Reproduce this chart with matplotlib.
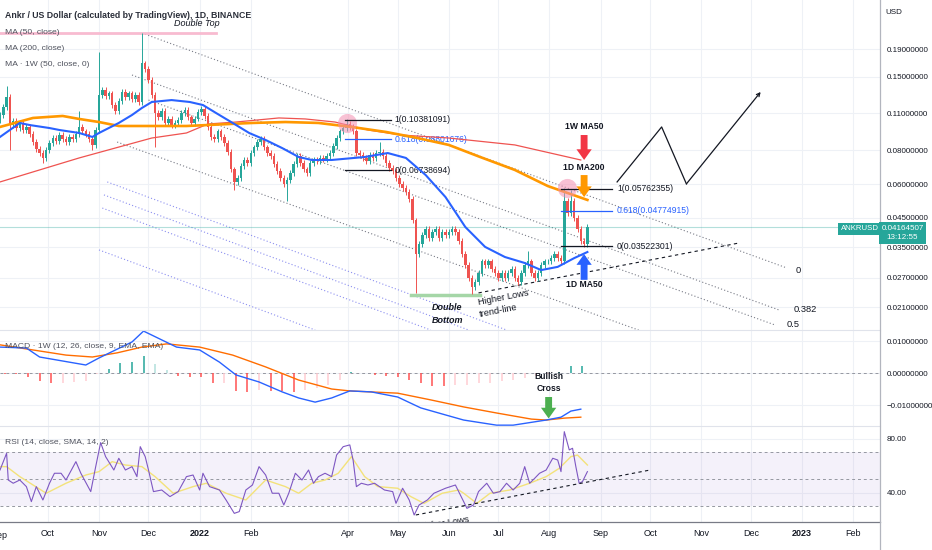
import datetime as dt
import numpy as np
import matplotlib
matplotlib.use("Agg")
import matplotlib.pyplot as plt
import matplotlib.dates as mdates
from matplotlib.lines import Line2D
from matplotlib.ticker import FixedLocator, FuncFormatter, NullLocator

plt.rcParams['font.family'] = ['Liberation Sans', 'DejaVu Sans']
plt.rcParams['font.size'] = 6

# ---------------- data ----------------
start = dt.datetime(2021, 9, 2)
d0 = mdates.date2num(start)

# 2-day candles, closes in USD
closes = [0.108, 0.116, 0.126, 0.099, 0.103, 0.097, 0.101, 0.095, 0.098, 0.092,
          0.086, 0.081, 0.078, 0.075, 0.080, 0.085, 0.089, 0.087, 0.091, 0.088,
          0.086, 0.090, 0.088, 0.092, 0.098, 0.094, 0.092, 0.088, 0.084, 0.095,
          0.128, 0.134, 0.127, 0.130, 0.118, 0.112, 0.122, 0.132, 0.126, 0.130,
          0.124, 0.128, 0.121, 0.168, 0.160, 0.146, 0.128, 0.110, 0.106, 0.112,
          0.101, 0.105, 0.099, 0.101, 0.104, 0.110, 0.113, 0.106, 0.101, 0.105,
          0.111, 0.114, 0.107, 0.098, 0.090, 0.088, 0.094, 0.090, 0.085, 0.079,
          0.068, 0.061, 0.063, 0.070, 0.074, 0.072, 0.078, 0.082, 0.086, 0.088,
          0.082, 0.078, 0.076, 0.071, 0.067, 0.063, 0.060, 0.062, 0.066, 0.071,
          0.076, 0.072, 0.068, 0.066, 0.072, 0.074, 0.073, 0.075, 0.074, 0.076,
          0.078, 0.083, 0.089, 0.094, 0.097, 0.100, 0.098, 0.094, 0.078, 0.077,
          0.075, 0.073, 0.077, 0.075, 0.078, 0.079, 0.076, 0.072, 0.069, 0.067,
          0.063, 0.060, 0.058, 0.056, 0.053, 0.044, 0.033, 0.036, 0.039, 0.041,
          0.038, 0.040, 0.041, 0.038, 0.040, 0.039, 0.040, 0.041, 0.040, 0.037,
          0.033, 0.030, 0.027, 0.025, 0.026, 0.028, 0.031, 0.030, 0.031, 0.029,
          0.028, 0.027, 0.028, 0.027, 0.028, 0.029, 0.027, 0.026, 0.028, 0.030,
          0.031, 0.028, 0.027, 0.028, 0.030, 0.031, 0.031, 0.032, 0.033, 0.032,
          0.031, 0.052, 0.047, 0.052, 0.045, 0.041, 0.037, 0.036, 0.04164507]
first_open = 0.104
wick_high = {2: 0.138, 24: 0.112, 30: 0.185, 43: 0.218, 105: 0.105, 115: 0.086,
             160: 0.034, 171: 0.058, 173: 0.057}
wick_low = {3: 0.080, 13: 0.072, 28: 0.080, 47: 0.082, 71: 0.057, 87: 0.052,
            126: 0.0236, 143: 0.0234, 177: 0.0352}

# moving averages (day offset from start, price)
ma50_days = [0, 12, 18, 30, 36, 48, 56, 60, 72, 80, 86, 92, 104, 115, 123, 131, 141,
             151, 161, 171, 181, 189, 201, 221, 235, 246, 258, 270, 282, 294, 306,
             318, 328, 338, 348, 356]
ma50_vals = [0.0897, 0.1011, 0.0993, 0.0968, 0.0952, 0.0928, 0.0897, 0.0928, 0.1011,
             0.1082, 0.1149, 0.1209, 0.1229, 0.1209, 0.1178, 0.1100, 0.1011, 0.0928,
             0.0874, 0.0816, 0.0756, 0.0737, 0.0737, 0.0756, 0.0782, 0.0750, 0.0648,
             0.0537, 0.0416, 0.0351, 0.0322, 0.0306, 0.0288, 0.0296, 0.0319, 0.0336]
ma200_days = [0, 20, 38, 48, 60, 72, 113, 153, 173, 193, 213, 234, 253, 272, 291,
              312, 332, 356]
ma200_vals = [0.0977, 0.1055, 0.1073, 0.1046, 0.1019, 0.0985, 0.0985, 0.1011, 0.1019,
              0.1011, 0.0977, 0.0936, 0.0889, 0.0838, 0.0756, 0.0677, 0.0590, 0.0524]
ma1w_days = [0, 24, 48, 72, 92, 113, 126, 143, 169, 185, 203, 223, 243, 272, 312, 352]
ma1w_vals = [0.0611, 0.0677, 0.0750, 0.0823, 0.0889, 0.0928, 0.1002, 0.1019, 0.1055,
             0.1046, 0.1019, 0.0952, 0.0912, 0.0889, 0.0838, 0.0737]

# weekly MACD
macd_days = [0, 16, 24, 52, 60, 80, 87, 107, 121, 133, 143, 157, 171, 181, 191, 201,
             212, 225, 241, 255, 270, 281, 301, 311, 331, 340, 346, 352]
macd_vals = [0.0081, 0.0078, 0.0050, 0.0025, 0.0047, 0.0097, 0.0131, 0.0081, 0.0072,
             0.0034, -0.0006, -0.0028, -0.0059, -0.0078, -0.0091, -0.0078, -0.0056,
             -0.0059, -0.0075, -0.0109, -0.0131, -0.0147, -0.0163, -0.0163, -0.0147,
             -0.0138, -0.0119, -0.0113]
signal_days = [0, 20, 40, 56, 71, 86, 101, 121, 141, 161, 181, 201, 212, 241, 261,
               281, 301, 322, 331, 342, 352]
signal_vals = [0.0088, 0.0072, 0.0056, 0.0050, 0.0063, 0.0081, 0.0091, 0.0081, 0.0056,
               0.0019, -0.0022, -0.0050, -0.0056, -0.0063, -0.0084, -0.0106, -0.0125,
               -0.0144, -0.0147, -0.0141, -0.0138]
hist_first_day = 3
hist_vals = [-0.0002, -0.0003, -0.00125, -0.0025, -0.0031, -0.0030, -0.0028, -0.0025,
             -0.0003, 0.00125, 0.0031, 0.0034, 0.0053, 0.0028, 0.0009, -0.0009,
             -0.00125, -0.00125, -0.0031, -0.0030, -0.0056, -0.0059, -0.0053, -0.0056,
             -0.0056, -0.0059, -0.0053, -0.0047, -0.00375, -0.0022, 0.0003, 0.0001,
             -0.0006, -0.0009, -0.00125, -0.0022, -0.0031, -0.0041, -0.0041, -0.00375,
             -0.0037, -0.0031, -0.0030, -0.0025, -0.0022, -0.0016, -0.0009, -0.0003,
             0.0003, 0.0022, 0.0022]

# daily RSI and its SMA
rsi_days = [0, 4, 5, 8, 12, 16, 19, 22, 26, 30, 33, 37, 40, 46, 49, 55, 58, 61, 64,
            69, 72, 76, 80, 83, 85, 88, 90, 93, 98, 103, 108, 113, 117, 121, 123,
            127, 133, 137, 142, 145, 149, 153, 157, 161, 165, 169, 172, 175, 179,
            183, 187, 190, 193, 197, 201, 204, 208, 212, 214, 216, 219, 223, 227,
            233, 238, 240, 244, 248, 251, 254, 259, 263, 270, 276, 281, 283, 287,
            290, 295, 299, 303, 307, 311, 315, 318, 321, 324, 327, 331, 335, 338,
            340, 342, 345, 347, 349, 351, 353, 356]
rsi_vals = [57.0, 69.4, 49.6, 47.2, 49.6, 44.7, 33.6, 44.7, 34.8, 47.2, 54.6, 54.6,
            49.6, 63.2, 54.6, 41.0, 59.5, 77.3, 66.9, 57.0, 65.7, 57.0, 59.5, 52.1,
            74.3, 66.9, 57.0, 41.0, 42.2, 37.3, 41.0, 52.1, 53.3, 42.2, 54.6, 44.7,
            42.2, 34.8, 24.9, 26.2, 42.2, 45.9, 59.5, 53.3, 39.8, 39.8, 31.1, 39.8,
            54.6, 49.6, 57.0, 47.2, 52.1, 54.6, 52.1, 68.1, 74.3, 75.6, 64.4, 44.7,
            47.2, 45.9, 47.2, 42.2, 41.0, 32.3, 43.5, 34.8, 23.7, 31.1, 34.8, 39.8,
            43.5, 45.9, 33.6, 28.6, 31.1, 41.0, 47.2, 39.8, 41.0, 47.2, 42.2, 47.2,
            59.5, 47.2, 50.8, 54.6, 57.0, 65.7, 64.4, 55.8, 85.4, 71.9, 73.1, 59.5,
            47.2, 48.4, 55.8]
rsi_ma_days = [0, 4, 12, 28, 40, 52, 60, 68, 76, 86, 94, 105, 117, 125, 137, 149, 161,
               173, 181, 189, 197, 205, 213, 221, 229, 241, 249, 257, 268, 278, 281,
               289, 297, 309, 321, 331, 339, 346, 350, 356]
rsi_ma_vals = [59.5, 59.5, 52.1, 39.8, 47.2, 53.3, 55.8, 63.2, 60.7, 59.5, 52.1, 39.8,
               44.7, 47.2, 39.8, 34.8, 49.6, 44.7, 39.8, 47.2, 49.6, 54.6, 66.9, 52.1,
               44.7, 43.5, 37.3, 32.3, 39.8, 42.2, 39.8, 32.3, 39.8, 42.2, 47.2, 52.1,
               58.3, 66.9, 68.1, 60.7]

fib_top = [0.10381091, 0.08801676, 0.06738694]
fib_top_names = ['1(0.10381091)', '0.618(0.08801676)', '0(0.06738694)']
fib_low = [0.05762355, 0.04774915, 0.03522301]
fib_low_names = ['1(0.05762355)', '0.618(0.04774915)', '0(0.03522301)']
last_price = 0.04164507

price_ticks = [0.021, 0.027, 0.035, 0.045, 0.06, 0.08, 0.11, 0.15, 0.19]
month_dates = ['2021-10-01', '2021-11-01', '2021-12-01', '2022-01-01', '2022-02-01',
               '2022-04-01', '2022-05-01', '2022-06-01', '2022-07-01', '2022-08-01',
               '2022-09-01', '2022-10-01', '2022-11-01', '2022-12-01', '2023-01-01',
               '2023-02-01']
month_names = ['Oct', 'Nov', 'Dec', '2022', 'Feb', 'Apr', 'May', 'Jun', 'Jul', 'Aug',
               'Sep', 'Oct', 'Nov', 'Dec', '2023', 'Feb']

# ---------------- style ----------------
UP, DOWN = '#26a69a', '#ef5350'
GRID = '#eef1f6'
TXT = '#131722'
W, H = 932, 550
X_RIGHT = 880
FS = 6.2

fig = plt.figure(figsize=(W / 100, H / 100), dpi=100)
fig.patch.set_facecolor('white')


def pane(top, bottom):
    a = fig.add_axes([0, 1 - bottom / H, X_RIGHT / W, (bottom - top) / H])
    for s in a.spines.values():
        s.set_visible(False)
    a.set_xlim(d0, d0 + X_RIGHT / 1.65)
    mt = mdates.datestr2num(month_dates)
    a.xaxis.set_major_locator(FixedLocator(mt))
    a.xaxis.set_minor_locator(NullLocator())
    a.tick_params(axis='x', length=0, labelbottom=False)
    a.yaxis.tick_right()
    a.tick_params(axis='y', length=0, pad=5, labelsize=5.8, labelcolor=TXT)
    a.grid(True, color=GRID, lw=0.8)
    a.set_axisbelow(True)
    return a


def ftxt(x, y, s, **kw):
    fig.text(x / W, 1 - y / H, s, **kw)


def D(day):
    return d0 + np.asarray(day, dtype=float)


ax = pane(0, 330)
axm = pane(330, 426)
axr = pane(426, 522)

# ---------------- main pane ----------------
ax.set_yscale('log')
ax.set_ylim(0.01727, 0.2887)
ax.yaxis.set_major_locator(FixedLocator(price_ticks))
ax.yaxis.set_minor_locator(NullLocator())
ax.yaxis.set_major_formatter(FuncFormatter(lambda v, p: f'{v:.8f}'))

# channel lines
chan = [((86, 0.2178), (477, 0.0293)), ((80, 0.1522), (472, 0.0205)),
        ((90, 0.1229), (470, 0.0180)), ((71, 0.0859), (390, 0.0170))]
for (da, pa), (db, pb) in chan:
    ax.plot(D([da, db]), [pa, pb], color='#787b86', lw=0.8, ls=(0, (1, 2)), zorder=2)
lav = [((65, 0.0611), (307, 0.01727)), ((63, 0.0547), (284, 0.01727)),
       ((62, 0.0489), (261, 0.01727)), ((60, 0.0342), (191, 0.01727))]
for (da, pa), (db, pb) in lav:
    ax.plot(D([da, db]), [pa, pb], color='#8c8ff0', lw=0.8, ls=(0, (1, 2)), zorder=2)
ax.text(D(482), 0.0288, '0', color=TXT, fontsize=FS + 0.5, va='center')
ax.text(D(481), 0.0205, '0.382', color=TXT, fontsize=FS + 0.5, va='center')
ax.text(D(477), 0.0181, '0.5', color=TXT, fontsize=FS + 0.5, va='center')

# double top / bottom marks
ax.plot(D([0, 131]), [0.2178, 0.2178], color='#f8bbd0', lw=2, zorder=2)
ax.text(D(119), 0.2372, 'Double Top', fontsize=FS + 0.3, style='italic', color=TXT,
        ha='center', va='center')
ax.plot(D([249, 291]), [0.0233, 0.0233], color='#a5d6a7', lw=2.5, zorder=2)
ax.text(D(271), 0.0210, 'Double', fontsize=FS + 0.3, style='italic', weight='bold',
        color=TXT, ha='center', va='center')
ax.text(D(271), 0.0188, 'Bottom', fontsize=FS + 0.3, style='italic', weight='bold',
        color=TXT, ha='center', va='center', clip_on=True)
ax.plot(D([290, 448]), [0.0237, 0.0363], color='#131722', lw=0.8, ls=(0, (3, 3)), zorder=2)
ax.text(D(305), 0.0228, 'Higher Lows', fontsize=FS + 0.5, color=TXT, rotation=11,
        ha='center', va='center')
ax.text(D(302), 0.0203, 'trend-line', fontsize=FS + 0.5, color=TXT, rotation=11,
        ha='center', va='center')

# current price line
ax.axhline(last_price, color=UP, lw=0.8, alpha=0.35, zorder=2)

# candles
c = np.array(closes)
o = np.r_[first_open, c[:-1]]
hi = np.maximum(o, c) * 1.025
lo = np.minimum(o, c) * 0.975
for k, v in wick_high.items():
    hi[k] = v
for k, v in wick_low.items():
    lo[k] = v
cx = d0 + 2 * np.arange(len(c))
col = np.where(c >= o, UP, DOWN)
ax.vlines(cx, lo, hi, colors=col, lw=0.7, zorder=3)
ax.bar(cx, np.abs(c - o), bottom=np.minimum(o, c), width=1.5, color=col, lw=0, zorder=3)

# moving averages
ax.plot(D(ma1w_days), ma1w_vals, color='#ef5350', lw=0.9, zorder=4)
ax.plot(D(ma200_days), ma200_vals, color='#ff9800', lw=1.9, zorder=4)
ax.plot(D(ma50_days), ma50_vals, color='#2962ff', lw=1.5, zorder=4)

# highlight circles
ax.scatter(D([210.6, 343.4]), [0.1011, 0.0580], s=190, color='#f48fb1', alpha=0.55,
           lw=0, zorder=5)

# fib retracements
for lv, name, clr in zip(fib_top, fib_top_names, [TXT, '#2962ff', TXT]):
    ax.plot(D([209, 237]), [lv, lv], color=clr, lw=0.9, zorder=5)
    ax.text(D(239), lv, name, color=clr, fontsize=FS, va='center')
for lv, name, clr in zip(fib_low, fib_low_names, [TXT, '#2962ff', TXT]):
    ax.plot(D([340, 371]), [lv, lv], color=clr, lw=0.9, zorder=5)
    ax.text(D(374), lv, name, color=clr, fontsize=FS, va='center')

# projection zigzag
zz_days = [374, 401, 416, 461]
zz_vals = [0.0611, 0.0977, 0.0601, 0.1317]
ax.plot(D(zz_days[:3]), zz_vals[:3], color='#131722', lw=0.9, zorder=5)
ax.annotate('', xy=(D(zz_days[3]), zz_vals[3]), xytext=(D(zz_days[2]), zz_vals[2]),
            arrowprops=dict(arrowstyle='->', color='#131722', lw=0.9, shrinkA=0, shrinkB=0))


def fat_arrow(a, day, p_from, p_to, clr):
    a.annotate('', xy=(D(day), p_to), xytext=(D(day), p_from),
               arrowprops=dict(arrowstyle='simple,head_length=0.7,head_width=1.0,tail_width=0.45',
                               color=clr, lw=0, shrinkA=0, shrinkB=0, mutation_scale=11),
               zorder=6)


fat_arrow(ax, 354, 0.0912, 0.0737, '#f23645')
fat_arrow(ax, 354, 0.0648, 0.0537, '#ff9800')
fat_arrow(ax, 354, 0.0265, 0.0330, '#2962ff')
ax.text(D(354), 0.0977, '1W MA50', fontsize=FS, weight='bold', color=TXT, ha='center', va='center')
ax.text(D(354), 0.0694, '1D MA200', fontsize=FS, weight='bold', color=TXT, ha='center', va='center')
ax.text(D(354), 0.0254, '1D MA50', fontsize=FS, weight='bold', color=TXT, ha='center', va='center')

# ---------------- MACD pane ----------------
axm.set_ylim(-0.01656, 0.01344)
axm.yaxis.set_major_locator(FixedLocator([-0.01, 0.0, 0.01]))
axm.yaxis.set_major_formatter(FuncFormatter(lambda v, p: f'{v:.8f}'.replace('-', '\u2212')))
axm.axhline(0, color='#9598a1', lw=0.7, ls=(0, (3, 3)), zorder=1)
h = np.array(hist_vals)
prev = np.r_[h[0], h[:-1]]
hcol = np.where(h >= 0, np.where(h >= prev, '#26a69a', '#b2dfdb'),
                np.where(h <= prev, '#ff5252', '#ffcdd2'))
hx = D(hist_first_day + 7 * np.arange(len(h)))
axm.vlines(hx, 0, h, colors=hcol, lw=1.1, zorder=2)
axm.plot(D(signal_days), signal_vals, color='#ff6d00', lw=1.0, zorder=3)
axm.plot(D(macd_days), macd_vals, color='#2962ff', lw=1.0, zorder=3)
fat_arrow(axm, 332.5, -0.0075, -0.0142, '#4caf50')
axm.text(D(332.5), -0.0012, 'Bullish', fontsize=FS, weight='bold', color=TXT, ha='center', va='center')
axm.text(D(332.5), -0.0047, 'Cross', fontsize=FS, weight='bold', color=TXT, ha='center', va='center')

# ---------------- RSI pane ----------------
axr.set_ylim(18.5, 89.6)
axr.yaxis.set_major_locator(FixedLocator([40, 80]))
axr.yaxis.set_major_formatter(FuncFormatter(lambda v, p: f'{v:.2f}'))
axr.axhspan(30, 70, color='#7e57c2', alpha=0.08, lw=0, zorder=1)
for lv in (30, 50, 70):
    axr.axhline(lv, color='#9598a1', lw=0.7, ls=(0, (3, 3)), zorder=1)
axr.plot(D(rsi_ma_days), rsi_ma_vals, color='#f3e27a', lw=1.0, zorder=3)
axr.plot(D(rsi_days), rsi_vals, color='#7e57c2', lw=0.8, zorder=4)
axr.plot(D([252, 394]), [23.7, 57.0], color='#131722', lw=0.8, ls=(0, (3, 3)), zorder=4)
axr.text(D(269), 17.6, 'Higher Lows', fontsize=FS + 0.5, color=TXT, rotation=9, ha='center',
         va='center', clip_on=True)
axr.set_xticklabels(month_names)
axr.tick_params(axis='x', labelbottom=True, pad=5, labelsize=6.5, labelcolor=TXT)
for t in axr.get_xticklabels():
    if t.get_text() in ('2022', '2023'):
        t.set_fontweight('bold')

# ---------------- frame, legends, price tag ----------------
for y in (330, 426):
    fig.add_artist(Line2D([0, X_RIGHT / W], [1 - y / H] * 2, color='#e0e3eb', lw=0.8))
fig.add_artist(Line2D([0, X_RIGHT / W], [1 - 522 / H] * 2, color='#787b86', lw=0.9))
ftxt(0, 536, 'Sep', fontsize=6.5, color=TXT, ha='center', va='center')

ftxt(5, 16, 'Ankr / US Dollar (calculated by TradingView), 1D, BINANCE', fontsize=6.3,
     weight='bold', color='#2a2e39', va='center')
for y, s in [(32, 'MA (50, close)'), (48, 'MA (200, close)'),
             (64, 'MA \u00b7 1W (50, close, 0)'),
             (347, 'MACD \u00b7 1W (12, 26, close, 9, EMA, EMA)'),
             (443, 'RSI (14, close, SMA, 14, 2)')]:
    ftxt(5, y, s, fontsize=6.1, color='#50535e', va='center')
ftxt(885, 12, 'USD', fontsize=5.8, color=TXT, va='center')

ftxt(860, 229, 'ANKRUSD', fontsize=5.6, color='white', ha='center', va='center',
     bbox=dict(boxstyle='square,pad=0.35', fc=UP, ec='none'))
ftxt(902.5, 233, f'{last_price:.8f}\n13:12:55', fontsize=5.8, color='white', ha='center',
     va='center', linespacing=1.5, bbox=dict(boxstyle='square,pad=0.3', fc=UP, ec='none'))
fig.add_artist(Line2D([X_RIGHT / W] * 2, [0, 1], color='#b2b5be', lw=0.9))

fig.savefig('out.png', dpi=100)
